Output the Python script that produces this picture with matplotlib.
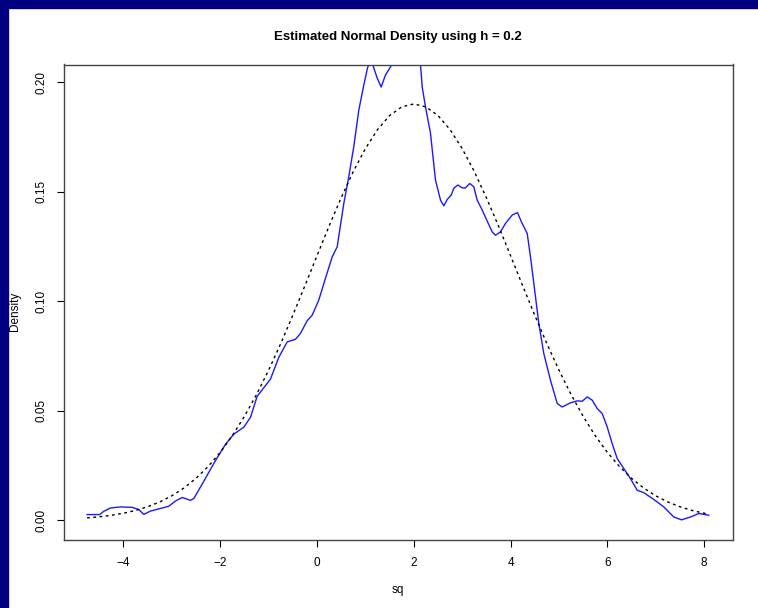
import numpy as np
import matplotlib
matplotlib.use("Agg")
import matplotlib.pyplot as plt
from matplotlib.patches import Rectangle

## kernel density estimate (blue)
kde_x = [-4.748, -4.488, -4.405, -4.267, -4.060, -3.818, -3.682, -3.579, -3.440, -3.269,
         -3.062, -2.924, -2.785, -2.614, -2.545, -2.339, -2.118, -1.890, -1.719, -1.512,
         -1.374, -1.236, -0.961, -0.789, -0.616, -0.444, -0.341, -0.202, -0.099, 0.037,
         0.176, 0.314, 0.417, 0.554, 0.657, 0.760, 0.864, 0.967, 1.043, 1.085,
         1.147, 1.244, 1.326, 1.415, 1.554, 1.684, 1.829, 1.973, 2.097, 2.138,
         2.174, 2.242, 2.345, 2.448, 2.552, 2.620, 2.690, 2.773, 2.826, 2.909,
         3.000, 3.068, 3.157, 3.240, 3.310, 3.413, 3.517, 3.620, 3.688, 3.791,
         3.895, 4.033, 4.143, 4.225, 4.343, 4.411, 4.467, 4.514, 4.583, 4.686,
         4.824, 4.963, 5.066, 5.238, 5.376, 5.479, 5.583, 5.686, 5.789, 5.893,
         5.996, 6.099, 6.202, 6.339, 6.477, 6.616, 6.752, 6.959, 7.165, 7.372,
         7.531, 7.717, 7.888, 8.095]
kde_y = [0.0026, 0.0026, 0.0041, 0.0056, 0.0061, 0.0059, 0.0049, 0.0027, 0.0042, 0.0052,
         0.0064, 0.0088, 0.0104, 0.0091, 0.0099, 0.0178, 0.0265, 0.0347, 0.0393, 0.0425,
         0.0470, 0.0566, 0.0644, 0.0744, 0.0814, 0.0826, 0.0853, 0.0911, 0.0936, 0.1005,
         0.1105, 0.1202, 0.1248, 0.1446, 0.1568, 0.1705, 0.1872, 0.1986, 0.2064, 0.2087,
         0.2082, 0.2018, 0.1977, 0.2032, 0.2082, 0.2137, 0.2155, 0.2146, 0.2110, 0.2082,
         0.1977, 0.1886, 0.1766, 0.1553, 0.1461, 0.1435, 0.1464, 0.1484, 0.1515, 0.1530,
         0.1517, 0.1517, 0.1537, 0.1522, 0.1461, 0.1416, 0.1365, 0.1316, 0.1301, 0.1316,
         0.1355, 0.1393, 0.1404, 0.1361, 0.1309, 0.1202, 0.1104, 0.1020, 0.0898, 0.0761,
         0.0639, 0.0533, 0.0517, 0.0536, 0.0545, 0.0543, 0.0563, 0.0548, 0.0510, 0.0487,
         0.0426, 0.0350, 0.0282, 0.0236, 0.0190, 0.0137, 0.0126, 0.0095, 0.0061, 0.0015,
         0.0002, 0.0015, 0.0031, 0.0023]

## fitted normal curve (dotted)
norm_x = [-4.75, -4.5, -4.25, -4.0, -3.75, -3.5, -3.25, -3.0, -2.75, -2.5,
          -2.25, -2.0, -1.75, -1.5, -1.25, -1.0, -0.75, -0.5, -0.25, 0.0,
          0.25, 0.5, 0.75, 1.0, 1.25, 1.5, 1.75, 2.0, 2.25, 2.5,
          2.75, 3.0, 3.25, 3.5, 3.75, 4.0, 4.25, 4.5, 4.75, 5.0,
          5.25, 5.5, 5.75, 6.0, 6.25, 6.5, 6.75, 7.0, 7.25, 7.5,
          7.75, 8.0, 8.1]
norm_y = [0.00109, 0.00158, 0.00227, 0.00321, 0.00447, 0.00616, 0.00835, 0.01116, 0.01471, 0.01913,
          0.02452, 0.03097, 0.03857, 0.04738, 0.05736, 0.06848, 0.08060, 0.09354, 0.10703, 0.12072,
          0.13427, 0.14722, 0.15916, 0.16963, 0.17826, 0.18469, 0.18866, 0.19000, 0.18866, 0.18469,
          0.17826, 0.16963, 0.15916, 0.14722, 0.13427, 0.12072, 0.10703, 0.09354, 0.08060, 0.06848,
          0.05736, 0.04738, 0.03857, 0.03097, 0.02452, 0.01913, 0.01471, 0.01116, 0.00835, 0.00616,
          0.00447, 0.00321, 0.00280]

x_ticks = [-4, -2, 0, 2, 4, 6, 8]
y_ticks = [0.00, 0.05, 0.10, 0.15, 0.20]

plt.rcParams['font.family'] = ['Liberation Sans', 'DejaVu Sans']

W, H = 758, 608
fig = plt.figure(figsize=(W / 100, H / 100), dpi=100)
fig.patch.set_facecolor('white')

## navy window frame on top and left
fig.patches.append(Rectangle((0, 1 - 8 / H), 1, 8 / H, transform=fig.transFigure,
                             color='#000080', zorder=10))
fig.patches.append(Rectangle((0, 0), 8 / W, 1, transform=fig.transFigure,
                             color='#000080', zorder=10))

left, right, top, bottom = 64, 733, 64.5, 540
ax = fig.add_axes([left / W, (H - bottom) / H, (right - left) / W, (bottom - top) / H])

ax.plot(kde_x, kde_y, color='#1a1aff', lw=1.0)
ax.plot(norm_x, norm_y, color='black', lw=1.0, dashes=(2, 2.5))

ax.set_xlim(-5.227, 8.595)
ax.set_ylim(-0.009, 0.208)

ax.set_xticks(x_ticks)
ax.set_xticklabels(['\u22124', '\u22122', '0', '2', '4', '6', '8'])
ax.set_yticks(y_ticks)
ax.set_yticklabels(['%.2f' % v for v in y_ticks], rotation=90, va='center')
ax.tick_params(direction='out', length=5, width=0.8, labelsize=8.5, pad=7, colors='black')
for s in ax.spines.values():
    s.set_color('#444444')
    s.set_linewidth(1.0)

fig.text(0.525, 1 - 37 / H, 'Estimated Normal Density using h = 0.2',
         ha='center', va='center', fontsize=9.5, fontweight='bold')
fig.text(0.525, 1 - 590 / H, 'sq', ha='center', va='center', fontsize=8.5)
fig.text(15 / W, 1 - 311 / H, 'Density', ha='center', va='center', rotation=90, fontsize=8.5)

fig.savefig('out.png', dpi=100)
